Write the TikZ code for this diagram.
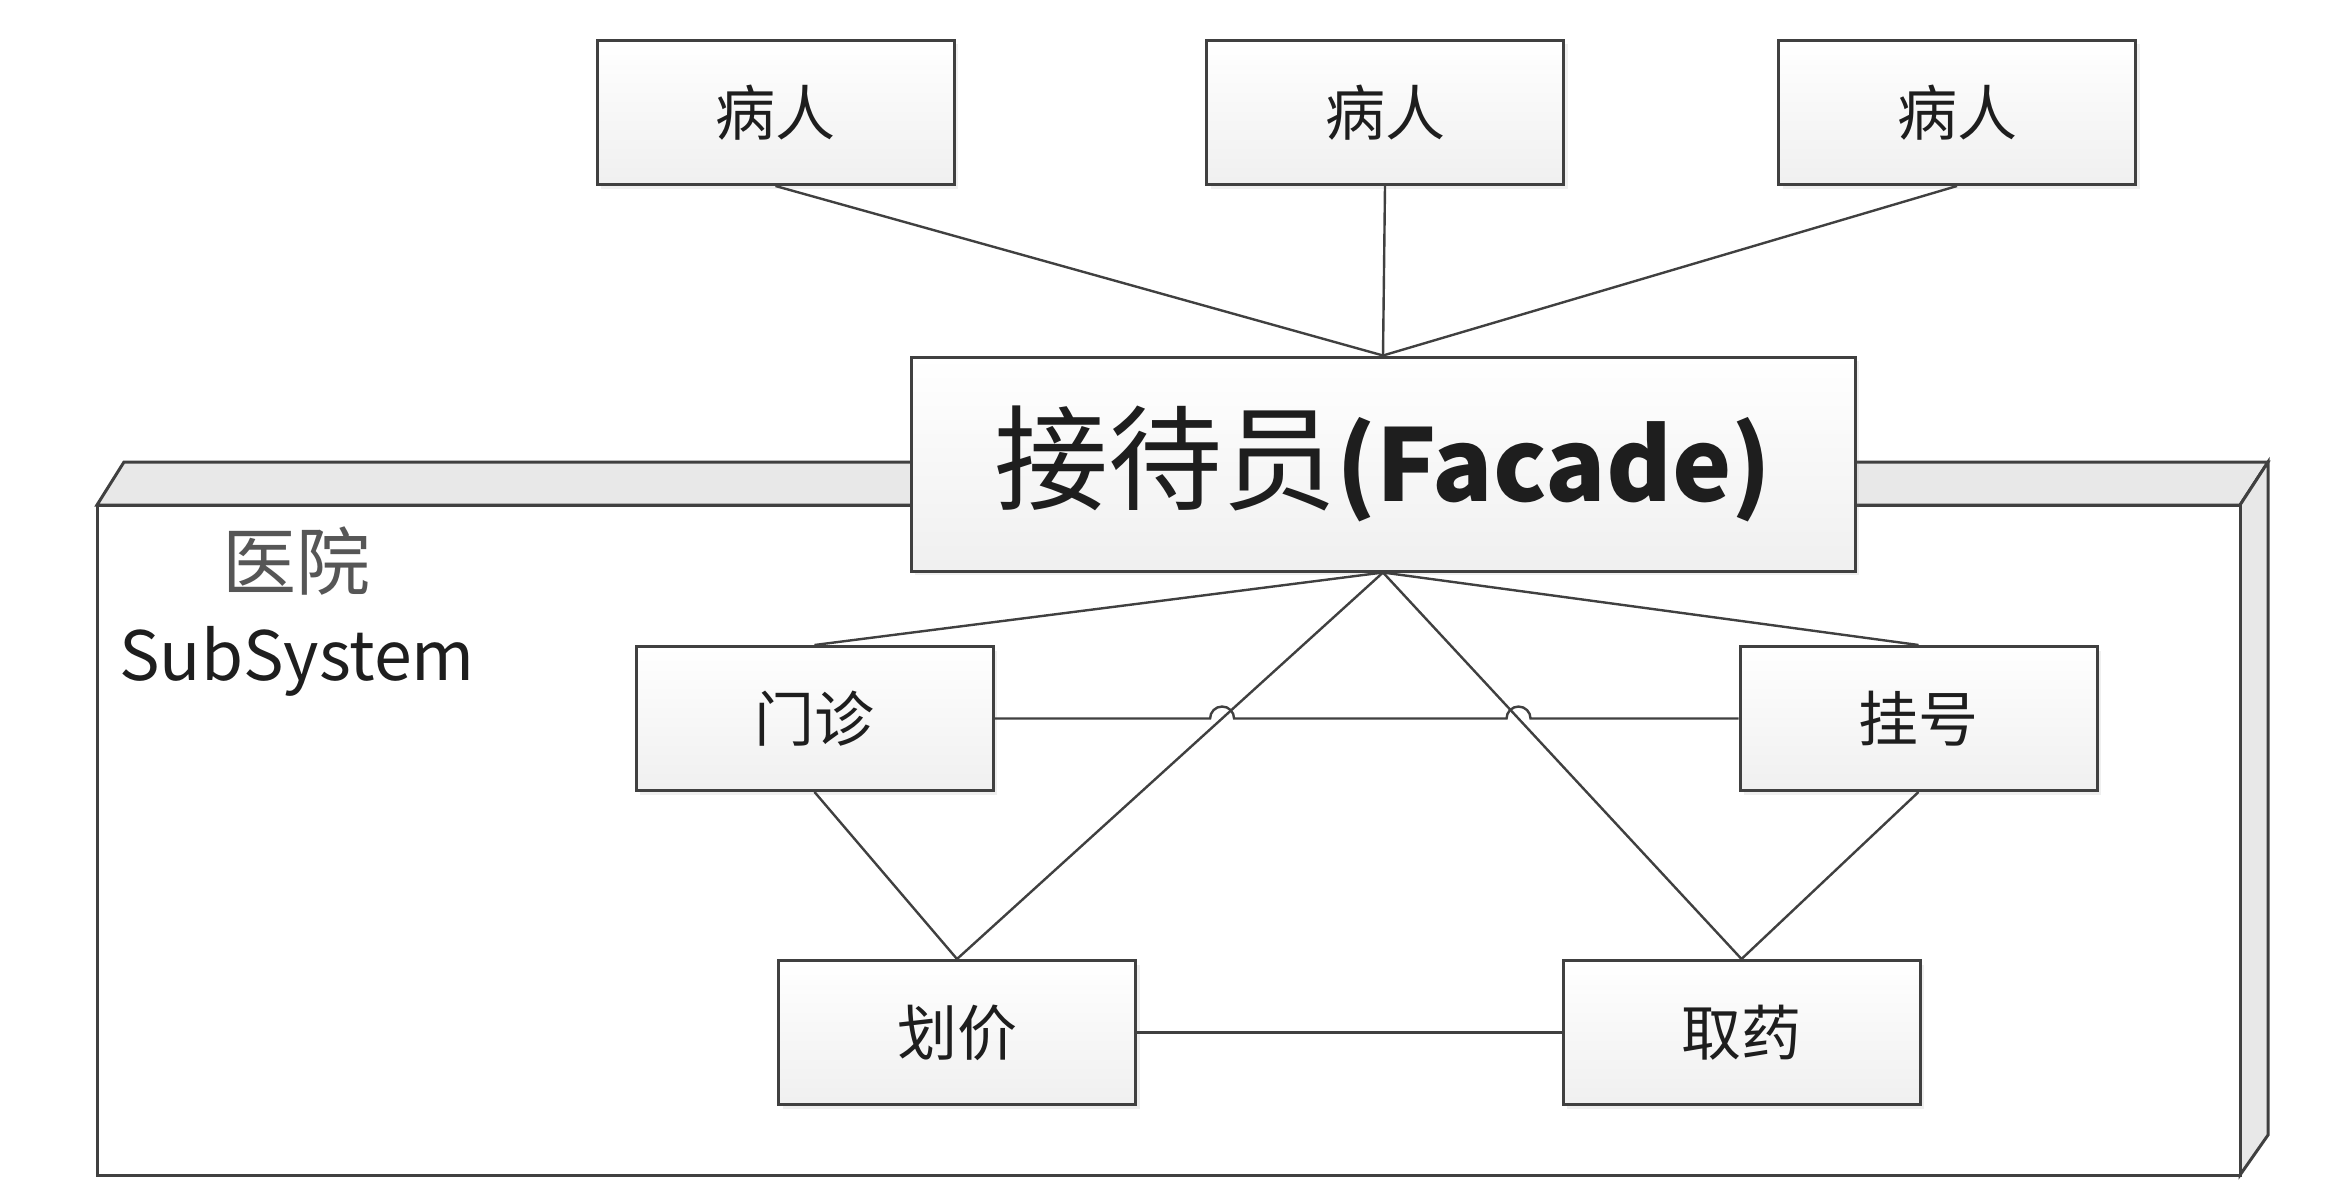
\documentclass[tikz,border=0pt]{standalone}
\usepackage{fontspec}
\setmainfont{Noto Sans CJK SC}
\usetikzlibrary{shadows}
\definecolor{ln}{HTML}{404040}
\definecolor{face}{HTML}{E8E8E8}
\definecolor{txt}{HTML}{1E1E1E}
\begin{document}
\begin{tikzpicture}[x=0.5pt,y=-0.5pt,
  box/.style={draw=ln, line width=1.5pt, top color=white, bottom color=black!6,
    minimum width=178.5pt, minimum height=72pt, inner sep=0pt, text=txt,
    font=\fontsize{30}{36}\selectfont,
    drop shadow={shadow xshift=2pt,shadow yshift=-2pt,opacity=0.12}},
  conn/.style={draw=ln, line width=1.2pt},
  pkg/.style={draw=ln, line width=1.5pt, line join=miter}]
\useasboundingbox (0,0) rectangle (2330,1188);
% package (3D node)
\draw[pkg, fill=face] (97,505) -- (124,462) -- (2268,462) -- (2240,505) -- cycle;
\draw[pkg, fill=face] (2240,505) -- (2268,462) -- (2268,1135) -- (2240,1175) -- cycle;
\draw[pkg, fill=white] (97,505) rectangle (2240,1175);
\node[font=\fontsize{37}{40}\selectfont, text=txt!75] (yy) at (296,561) {医院};
\node[anchor=west, font=\fontsize{34}{40}\selectfont, text=txt, inner sep=0pt] (ss) at (119,661) {SubSystem};
% patients
\node[box] (p1) at (775.5,112.5) {病人};
\node[box] (p2) at (1385,112.5) {病人};
\node[box] (p3) at (1957,112.5) {病人};
% facade
\node[box, minimum width=472pt, minimum height=107pt, font=\fontsize{57}{64}\selectfont] (fac) at (1383,464) {接待员{\fontsize{50}{60}\selectfont\bfseries(Facade)}};
% subsystem classes
\node[box] (mz) at (814.5,718.5) {门诊};
\node[box] (gh) at (1918.5,718.5) {挂号};
\node[box] (hj) at (957,1032.5) {划价};
\node[box] (qy) at (1741.5,1032.5) {取药};
% connectors
\draw[conn] (p1.south) -- (fac.north);
\draw[conn] (p2.south) -- (fac.north);
\draw[conn] (p3.south) -- (fac.north);
\draw[conn] (fac.south) -- (mz.north);
\draw[conn] (fac.south) -- (gh.north);
\draw[conn] (fac.south) -- (hj.north);
\draw[conn] (fac.south) -- (qy.north);
\draw[conn] (mz.south) -- (hj.north);
\draw[conn] (gh.south) -- (qy.north);
\draw[conn] (hj.east) -- (qy.west);
\path (intersection of fac.south--hj.north and mz.east--gh.west) coordinate (x1);
\path (intersection of fac.south--qy.north and mz.east--gh.west) coordinate (x2);
\draw[conn] (mz.east) -- ([xshift=-6pt]x1) arc[start angle=180,end angle=0,radius=6pt]
  -- ([xshift=-6pt]x2) arc[start angle=180,end angle=0,radius=6pt] -- (gh.west);
\end{tikzpicture}
\end{document}
